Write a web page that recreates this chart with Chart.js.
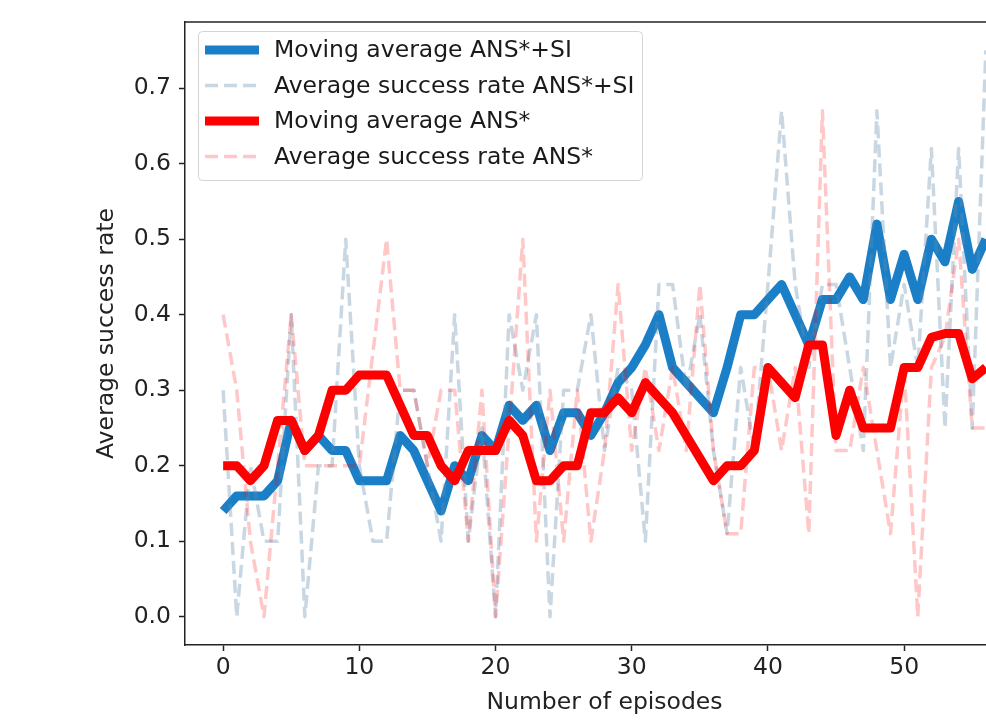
<!DOCTYPE html>
<html>
<head>
<meta charset="utf-8">
<script src="https://cdn.jsdelivr.net/npm/chart.js@4.4.1/dist/chart.umd.min.js"></script>
<style>
  html, body { margin: 0; padding: 0; background: #fff; overflow: hidden; }
  #wrap { width: 986px; height: 720px; overflow: hidden; }
</style>
</head>
<body>
<div id="wrap"><canvas id="chart" width="1024" height="720"></canvas></div>
<script>
const episodes = [0, 1, 2, 3, 4, 5, 6, 7, 8, 9, 10, 11, 12, 13, 14, 15, 16, 17, 18, 19,
  20, 21, 22, 23, 24, 25, 26, 27, 28, 29, 30, 31, 32, 33, 34, 35, 36, 37, 38, 39,
  40, 41, 42, 43, 44, 45, 46, 47, 48, 49, 50, 51, 52, 53, 54, 55, 56];

const movingAvgSI = [0.14, 0.16, 0.16, 0.16, 0.18, 0.26, 0.22, 0.24, 0.22, 0.22,
  0.18, 0.18, 0.18, 0.24, 0.22, 0.18, 0.14, 0.20, 0.18, 0.24,
  0.22, 0.28, 0.26, 0.28, 0.22, 0.27, 0.27, 0.24, 0.27, 0.31,
  0.33, 0.36, 0.40, 0.33, 0.31, 0.29, 0.27, 0.33, 0.40, 0.40,
  0.42, 0.44, 0.40, 0.36, 0.42, 0.42, 0.45, 0.42, 0.52, 0.42,
  0.48, 0.42, 0.50, 0.47, 0.55, 0.46, 0.50];

const successSI = [0.30, 0.00, 0.20, 0.10, 0.10, 0.40, 0.00, 0.20, 0.20, 0.50,
  0.20, 0.10, 0.10, 0.30, 0.30, 0.20, 0.10, 0.40, 0.10, 0.25,
  0.00, 0.40, 0.30, 0.40, 0.00, 0.30, 0.30, 0.40, 0.22, 0.33,
  0.30, 0.10, 0.44, 0.44, 0.30, 0.40, 0.22, 0.11, 0.33, 0.22,
  0.44, 0.67, 0.44, 0.33, 0.44, 0.44, 0.33, 0.22, 0.67, 0.33,
  0.44, 0.33, 0.62, 0.25, 0.62, 0.25, 0.75];

const movingAvgANS = [0.20, 0.20, 0.18, 0.20, 0.26, 0.26, 0.22, 0.24, 0.30, 0.30,
  0.32, 0.32, 0.32, 0.28, 0.24, 0.24, 0.20, 0.18, 0.22, 0.22,
  0.22, 0.26, 0.24, 0.18, 0.18, 0.20, 0.20, 0.27, 0.27, 0.29,
  0.27, 0.31, 0.29, 0.27, 0.24, 0.21, 0.18, 0.20, 0.20, 0.22,
  0.33, 0.31, 0.29, 0.36, 0.36, 0.24, 0.30, 0.25, 0.25, 0.25,
  0.33, 0.33, 0.37, 0.375, 0.375, 0.315, 0.33];

const successANS = [0.40, 0.30, 0.10, 0.00, 0.20, 0.40, 0.20, 0.20, 0.20, 0.20,
  0.20, 0.35, 0.50, 0.30, 0.30, 0.20, 0.30, 0.30, 0.10, 0.30,
  0.00, 0.25, 0.50, 0.10, 0.30, 0.10, 0.30, 0.10, 0.22, 0.44,
  0.22, 0.33, 0.22, 0.33, 0.22, 0.44, 0.22, 0.11, 0.11, 0.33,
  0.33, 0.22, 0.33, 0.11, 0.67, 0.22, 0.22, 0.33, 0.22, 0.11,
  0.33, 0.00, 0.33, 0.37, 0.50, 0.25, 0.25];

const xTicks = [0, 10, 20, 30, 40, 50];
const yTicks = [0, 0.1, 0.2, 0.3, 0.4, 0.5, 0.6, 0.7];

const BLUE = "#1a7fc6";
const BLUE_FADED = "rgba(100, 140, 175, 0.35)";
const RED = "#ff0000";
const RED_FADED = "rgba(255, 0, 0, 0.22)";
const FONT = "'DejaVu Sans', sans-serif";
const FONT_SIZE = 23.5;
const DASH = [13, 6];

const toPoints = (values) => episodes.map((e, i) => ({ x: e, y: values[i] }));

// matplotlib-like legend drawn inside the axes
const boxLegend = {
  id: "boxLegend",
  afterDatasetsDraw: (chart) => {
    const ctx = chart.ctx;
    const items = [
      { text: "Moving average ANS*+SI", color: BLUE, width: 9, dash: [] },
      { text: "Average success rate ANS*+SI", color: BLUE_FADED, width: 3.5, dash: DASH },
      { text: "Moving average ANS*", color: RED, width: 9, dash: [] },
      { text: "Average success rate ANS*", color: RED_FADED, width: 3.5, dash: DASH },
    ];
    ctx.save();
    ctx.beginPath();
    ctx.roundRect(198.5, 31.5, 444, 149, 4);
    ctx.fillStyle = "rgba(255,255,255,0.85)";
    ctx.fill();
    ctx.strokeStyle = "#d4d4d4";
    ctx.lineWidth = 1;
    ctx.stroke();

    ctx.font = `${FONT_SIZE}px ${FONT}`;
    ctx.textBaseline = "middle";
    ctx.textAlign = "left";
    items.forEach((item, i) => {
      const y = 50 + i * 35.5;
      ctx.beginPath();
      ctx.setLineDash(item.dash);
      ctx.lineWidth = item.width;
      ctx.strokeStyle = item.color;
      ctx.moveTo(205, y);
      ctx.lineTo(259, y);
      ctx.stroke();
      ctx.setLineDash([]);
      ctx.fillStyle = "#1a1a1a";
      ctx.fillText(item.text, 274, y + 1);
    });
    ctx.restore();
  },
};

// top spine (matplotlib draws a full frame)
const topSpine = {
  id: "topSpine",
  afterDraw: (chart) => {
    const { ctx, chartArea } = chart;
    ctx.save();
    ctx.strokeStyle = "#222";
    ctx.lineWidth = 1.5;
    ctx.beginPath();
    ctx.moveTo(chartArea.left, chartArea.top);
    ctx.lineTo(chartArea.right, chartArea.top);
    ctx.stroke();
    ctx.restore();
  },
};

new Chart(document.getElementById("chart"), {
  type: "line",
  data: {
    datasets: [
      {
        label: "Moving average ANS*+SI",
        data: toPoints(movingAvgSI),
        borderColor: BLUE,
        borderWidth: 9,
        borderJoinStyle: "round",
        order: 3,
      },
      {
        label: "Average success rate ANS*+SI",
        data: toPoints(successSI),
        borderColor: BLUE_FADED,
        borderWidth: 3.5,
        borderDash: DASH,
        borderJoinStyle: "round",
        order: 2,
      },
      {
        label: "Moving average ANS*",
        data: toPoints(movingAvgANS),
        borderColor: RED,
        borderWidth: 9,
        borderJoinStyle: "round",
        order: 1,
      },
      {
        label: "Average success rate ANS*",
        data: toPoints(successANS),
        borderColor: RED_FADED,
        borderWidth: 3.5,
        borderDash: DASH,
        borderJoinStyle: "round",
        order: 0,
      },
    ],
  },
  options: {
    responsive: false,
    animation: false,
    events: [],
    layout: { padding: { top: 17, right: 0, left: 92, bottom: 0 } },
    elements: { point: { radius: 0 }, line: { tension: 0, fill: false } },
    plugins: { legend: { display: false }, tooltip: { enabled: false } },
    scales: {
      x: {
        type: "linear",
        min: -2.8,
        max: 58.8,
        afterBuildTicks: (scale) => {
          scale.ticks = xTicks.map((v) => ({ value: v }));
        },
        afterFit: (scale) => {
          scale.height = 75;
        },
        grid: { drawOnChartArea: false, drawTicks: true, tickLength: 6, tickColor: "#222", tickWidth: 1.5 },
        border: { display: true, color: "#222", width: 1.5 },
        ticks: { color: "#222", font: { family: FONT, size: FONT_SIZE }, padding: 3, maxRotation: 0 },
        title: {
          display: true,
          text: "Number of episodes",
          color: "#222",
          font: { family: FONT, size: FONT_SIZE },
          padding: { top: 2, bottom: 3 },
        },
      },
      y: {
        min: -0.0375,
        max: 0.7875,
        afterBuildTicks: (scale) => {
          scale.ticks = yTicks.map((v) => ({ value: v }));
        },
        afterFit: (scale) => {
          scale.width = 93;
        },
        grid: { drawOnChartArea: false, drawTicks: true, tickLength: 6, tickColor: "#222", tickWidth: 1.5 },
        border: { display: true, color: "#222", width: 1.5 },
        ticks: {
          color: "#222",
          font: { family: FONT, size: FONT_SIZE },
          padding: 8,
          callback: (v) => v.toFixed(1),
        },
        title: {
          display: true,
          text: "Average success rate",
          color: "#222",
          font: { family: FONT, size: FONT_SIZE },
          padding: { top: 1, bottom: 2 },
        },
      },
    },
  },
  plugins: [boxLegend, topSpine],
});
</script>
</body>
</html>
